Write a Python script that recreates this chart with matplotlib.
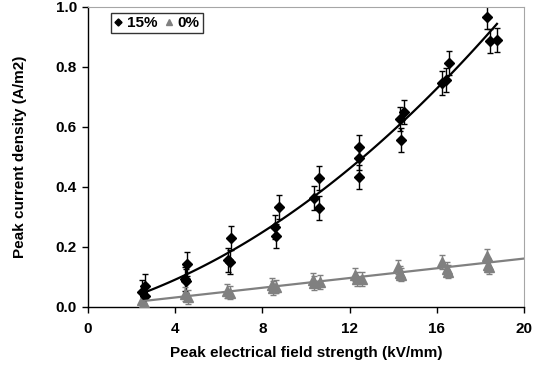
import matplotlib.pyplot as plt
import numpy as np

plt.rcParams['font.family'] = ['Liberation Sans', 'DejaVu Sans']
plt.rcParams['font.weight'] = 'bold'

# a. data: 15% series (diamonds)
x15 = [2.6, 2.5, 2.6, 4.54, 4.45, 4.5, 6.56, 6.42, 6.5, 8.76, 8.58, 8.62,
       10.6, 10.37, 10.6, 12.43, 12.43, 12.43, 14.5, 14.3, 14.36,
       16.56, 16.42, 16.24, 18.3, 18.44, 18.76]
y15 = [0.07, 0.05, 0.035, 0.143, 0.093, 0.085, 0.23, 0.157, 0.15, 0.333, 0.267, 0.237,
       0.43, 0.363, 0.33, 0.533, 0.497, 0.433, 0.65, 0.627, 0.557,
       0.813, 0.757, 0.747, 0.967, 0.887, 0.89]
err15 = 0.04

# b. 0% series (triangles)
x0 = [2.5, 2.55, 4.45, 4.6, 6.4, 6.5, 8.44, 8.5, 8.62, 10.3, 10.35, 10.64,
      12.25, 12.35, 12.55, 14.2, 14.36, 14.3, 16.24, 16.47, 16.5, 18.3, 18.35, 18.4]
y0 = [0.023, 0.013, 0.043, 0.033, 0.053, 0.047, 0.073, 0.063, 0.067, 0.09, 0.08, 0.083,
      0.107, 0.093, 0.093, 0.133, 0.107, 0.113, 0.15, 0.127, 0.117, 0.17, 0.14, 0.133]
err0 = 0.022

# c. figure and axes
fig = plt.figure(figsize=(5.43, 3.68), dpi=100)
ax = fig.add_axes([0.162, 0.166, 0.803, 0.815])

ax.errorbar(x15, y15, yerr=err15, fmt='none', ecolor='black', elinewidth=1,
            capsize=2.5, capthick=1, zorder=2)
ax.errorbar(x0, y0, yerr=err0, fmt='none', ecolor='#7f7f7f', elinewidth=1,
            capsize=2.5, capthick=1, zorder=2)
ax.plot(x15, y15, 'D', color='black', markersize=4.8, zorder=4, label='15%')
ax.plot(x0, y0, '^', color='#808080', markersize=6.5, zorder=3, label='0%')

# d. trend lines
p15 = np.polyfit(x15, y15, 2)
xs = np.linspace(min(x15), max(x15), 100)
ax.plot(xs, np.polyval(p15, xs), color='black', lw=1.6, zorder=5)
p0 = np.polyfit(x0, y0, 1)
xs0 = np.linspace(min(x0), 20, 100)
ax.plot(xs0, np.polyval(p0, xs0), color='#808080', lw=1.6, zorder=5)

# e. axes styling
ax.set_xlim(0, 20)
ax.set_ylim(0, 1.0)
ax.set_xticks(np.arange(0, 21, 4))
ax.set_yticks(np.arange(0, 1.01, 0.2))
ax.yaxis.set_major_formatter(plt.FormatStrFormatter('%.1f'))
ax.tick_params(direction='out', length=4, width=1, labelsize=11)
ax.tick_params(axis='x', pad=7)
ax.tick_params(axis='y', pad=4)
for s in ['top', 'right']:
    ax.spines[s].set_color('#a6a6a6')
for s in ['left', 'bottom']:
    ax.spines[s].set_color('black')
    ax.spines[s].set_linewidth(1)

ax.set_xlabel('Peak electrical field strength (kV/mm)', fontsize=11, fontweight='bold')
ax.set_ylabel('Peak current density (A/m2)', fontsize=11, fontweight='bold')
ax.xaxis.set_label_coords(0.5, -0.13)
ax.yaxis.set_label_coords(-0.14, 0.5)

leg = ax.legend(loc='upper left', bbox_to_anchor=(0.052, 0.98), ncol=2, frameon=True,
                fancybox=False, edgecolor='black', fontsize=11, handlelength=0.5,
                handletextpad=0.35, columnspacing=0.5, borderpad=0.2, borderaxespad=0,
                markerscale=0.75)
leg.get_frame().set_linewidth(1)

fig.savefig('out.png', dpi=100)
